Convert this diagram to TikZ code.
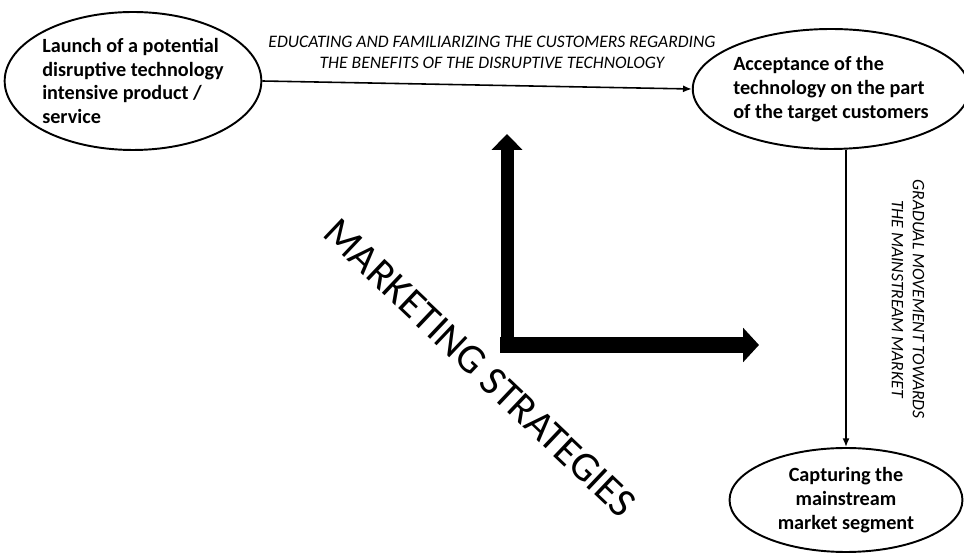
\documentclass[tikz,border=0pt]{standalone}
\usepackage{fontspec}
\setmainfont{Carlito}
\usetikzlibrary{shapes.geometric,arrows.meta}
\begin{document}
\begin{tikzpicture}[x=0.02cm,y=-0.02cm,
		stage/.style={draw,ellipse,line width=1.1pt,inner sep=0pt,font=\bfseries\fontsize{11.5}{13.6}\selectfont},
		flowlabel/.style={font=\itshape\fontsize{10}{12}\selectfont,align=center},
		flow/.style={-{Latex[length=5pt,width=4pt]},line width=0.9pt},
		bigarrow/.style={-{Triangle[length=9pt,width=17pt]},line width=7.4pt}]
		\useasboundingbox (0,0) rectangle (964,553);
		\node[stage,align=left,minimum width=5cm,minimum height=2.76cm] (launch) at (133,81) {Launch of a potential\\disruptive technology\\intensive product /\\service};
		\node[stage,align=left,minimum width=5.06cm,minimum height=2.4cm] (accept) at (831,89) {Acceptance of the\\technology on the part\\of the target customers};
		\node[stage,align=center,minimum width=4.66cm,minimum height=2.08cm] (capture) at (846,500) {Capturing the\\mainstream\\market segment};
		\draw[flow] (launch.east) -- (accept.west);
		\draw[flow] (accept.south -| capture.north) -- (capture.north);
		\node[flowlabel] (educate) at (492,52) {EDUCATING AND FAMILIARIZING THE CUSTOMERS REGARDING\\THE BENEFITS OF THE DISRUPTIVE TECHNOLOGY};
		\node[flowlabel,rotate=-90] (gradual) at (908,299) {GRADUAL MOVEMENT TOWARDS\\THE MAINSTREAM MARKET};
		\coordinate (corner) at (507,353);
		\draw[bigarrow] (corner) -- (507,134);
		\draw[bigarrow,line width=9pt,-{Triangle[length=9pt,width=19pt]}] (500,345) -- (759,345);
		\node[rotate=-43.5,font=\fontsize{23.5}{23.5}\selectfont] (strategies) at (480,368) {MARKETING STRATEGIES};
	\end{tikzpicture}
\end{document}
